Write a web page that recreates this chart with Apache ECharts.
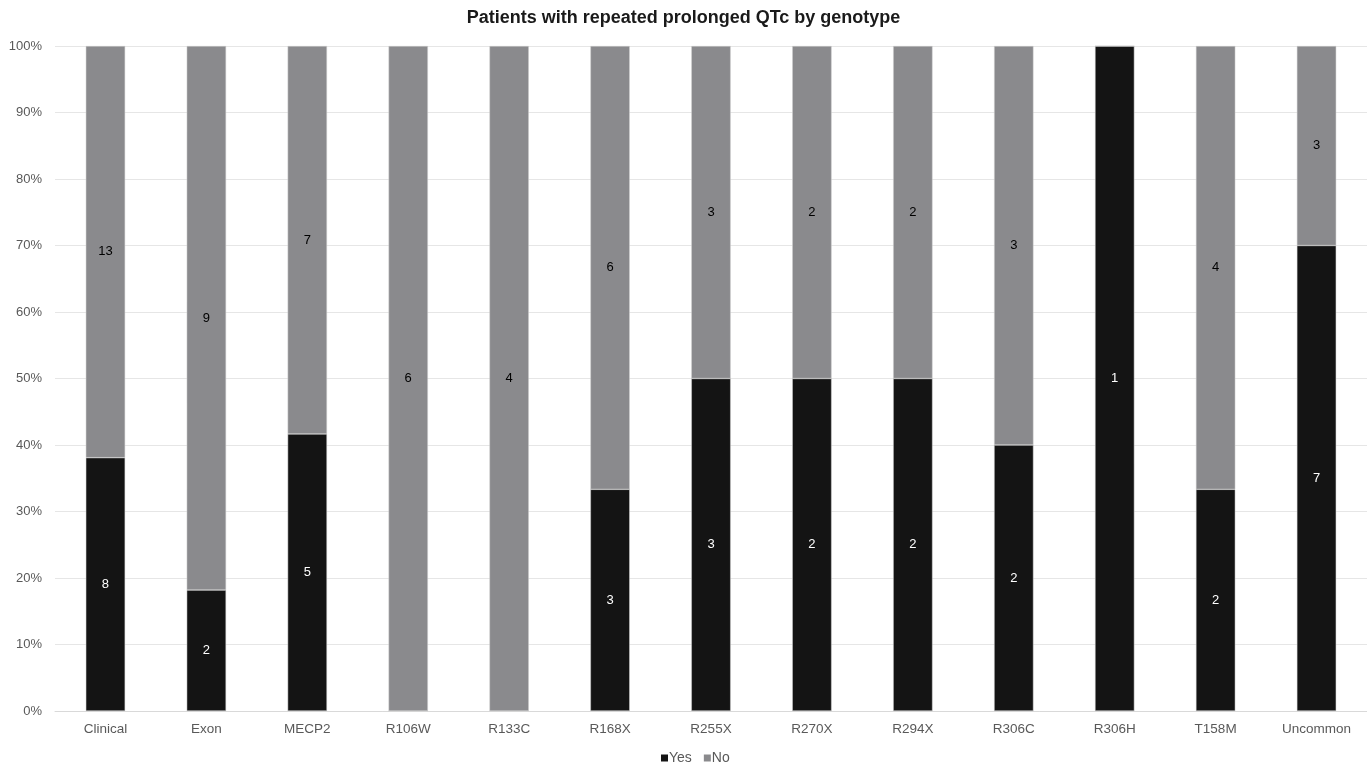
<!DOCTYPE html>
<html><head><meta charset="utf-8">
<script src="https://cdn.jsdelivr.net/npm/echarts@6/dist/echarts.min.js"></script>
<style>html,body{margin:0;padding:0;background:#fff}#c{width:1367px;height:765px}</style>
</head><body><div id="c"></div>
<script>
const categories = ['Clinical','Exon','MECP2','R106W','R133C','R168X','R255X','R270X','R294X','R306C','R306H','T158M','Uncommon'];
const yesCounts = [8,2,5,0,0,3,3,2,2,2,1,2,7];
const noCounts  = [13,9,7,6,4,6,3,2,2,3,0,4,3];
const yTicks = [0,10,20,30,40,50,60,70,80,90,100];

const totals = categories.map((c,i)=>yesCounts[i]+noCounts[i]);
const pct = (arr)=>arr.map((v,i)=>({value: v/totals[i]*100, count: v}));
const FONT = 'Liberation Sans, Arial, sans-serif';
const chart = echarts.init(document.getElementById('c'));
chart.setOption({
  animation:false,
  title:{text:'Patients with repeated prolonged QTc by genotype',left:'center',top:4,
    textStyle:{fontFamily:FONT,fontSize:18,fontWeight:'bold',color:'#1a1a1a'}},
  grid:{left:55,right:0,top:46,bottom:54,containLabel:false},
  legend:{top:746,left:656,itemWidth:7,itemHeight:7,itemGap:12,icon:'rect',
    itemStyle:{borderWidth:0},
    textStyle:{fontFamily:FONT,fontSize:14,color:'#595959',padding:[0,0,0,-4]},
    data:['Yes','No']},
  xAxis:{type:'category',data:categories,
    axisLine:{lineStyle:{color:'#d9d9d9'}},axisTick:{show:false},
    axisLabel:{fontFamily:FONT,fontSize:13.5,color:'#595959',margin:11}},
  yAxis:{type:'value',min:0,max:100,interval:10,
    axisLabel:{fontFamily:FONT,fontSize:13,color:'#595959',margin:13,formatter:v=>v+'%'},
    splitLine:{lineStyle:{color:'#e6e6e6'}},axisLine:{show:false},axisTick:{show:false}},
  series:[
    {name:'Yes',type:'bar',stack:'s',barWidth:'39%',data:pct(yesCounts),
     itemStyle:{color:'#141414',borderColor:'#d0d0d0',borderWidth:0.5},
     label:{show:true,position:'inside',fontFamily:FONT,fontSize:13,color:'#ffffff',
       formatter:p=>p.data.count>0?String(p.data.count):''}},
    {name:'No',type:'bar',stack:'s',barWidth:'39%',data:pct(noCounts),
     itemStyle:{color:'#8a8a8d',borderColor:'#d0d0d0',borderWidth:0.5},
     label:{show:true,position:'inside',fontFamily:FONT,fontSize:13,color:'#000000',
       formatter:p=>p.data.count>0?String(p.data.count):''}}
  ]
});
</script></body></html>
